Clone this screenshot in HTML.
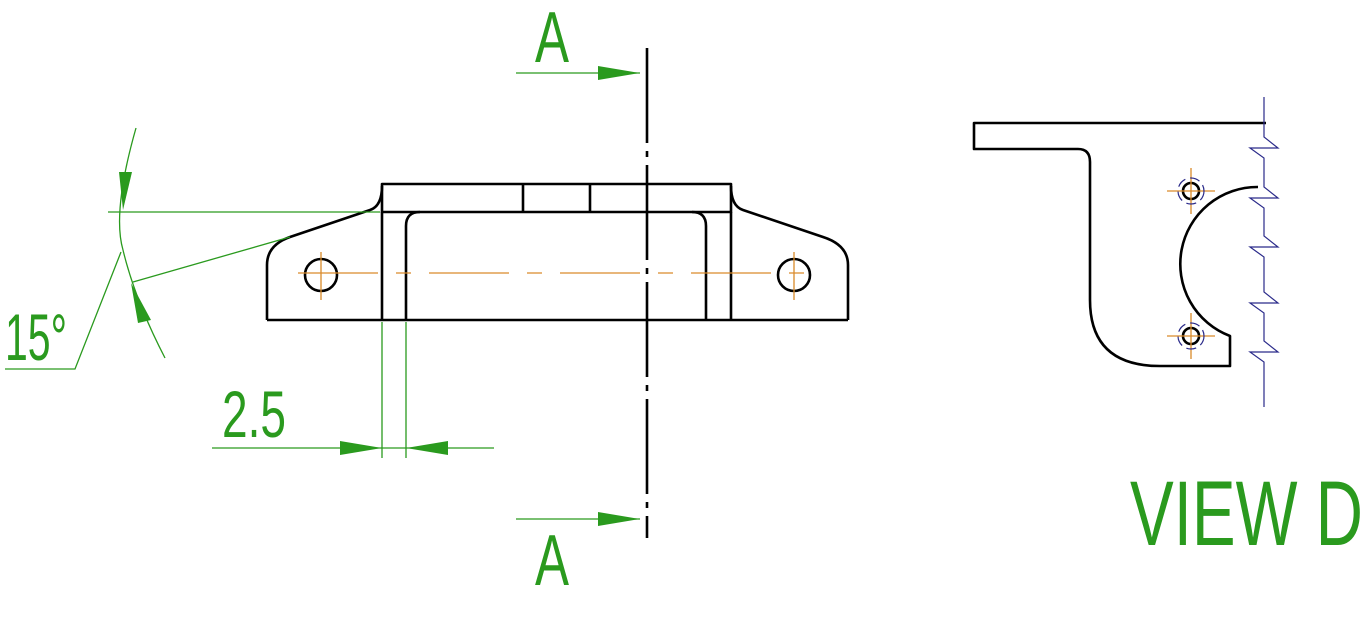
<!DOCTYPE html>
<html><head><meta charset="utf-8"><style>html,body{margin:0;padding:0;background:#fff}svg{display:block}</style></head>
<body>
<svg width="1372" height="632" viewBox="0 0 1372 632" xmlns="http://www.w3.org/2000/svg">
<g fill="none" stroke="#000" stroke-width="2.6" stroke-linejoin="round">
  <rect x="382" y="184" width="349" height="28"/>
  <line x1="523" y1="184" x2="523" y2="212"/>
  <line x1="590" y1="184" x2="590" y2="212"/>
  <line x1="382" y1="212" x2="382" y2="320"/>
  <line x1="731" y1="212" x2="731" y2="320"/>
  <path d="M406 320 V226 Q406 212 420 212"/>
  <path d="M706 320 V226 Q706 212 692 212"/>
  <line x1="267" y1="320" x2="848" y2="320"/>
  <path d="M382 186 Q382 206 370 210 L290 237 Q267 245 267 265 V320"/>
  <path d="M731 186 Q731 206 743 210 L823 237 Q848 245 848 265 V320"/>
  <circle cx="321" cy="275" r="16"/>
  <circle cx="794" cy="275" r="16"/>
  <line x1="647" y1="48" x2="647" y2="538" stroke-dasharray="95,8,6,8"/>
  <!-- view D -->
  <path d="M1090 123 H974 V149 H1078 Q1090 149 1090 162 V300 Q1090 366 1160 366 H1230 V336 A77 77 0 0 1 1258 187"/>
  <line x1="1090" y1="123" x2="1266" y2="123"/>
  <circle cx="1191" cy="191" r="8"/>
  <circle cx="1191" cy="336" r="8"/>
</g>
<g stroke="#d98a2a" stroke-width="1.3" fill="none">
  <line x1="298" y1="273" x2="817" y2="273" stroke-dasharray="80,18,15,18"/>
  <line x1="321" y1="252" x2="321" y2="300"/>
  <line x1="794" y1="252" x2="794" y2="300"/>
  <line x1="1167" y1="191" x2="1215" y2="191"/><line x1="1191" y1="168" x2="1191" y2="214"/>
  <line x1="1167" y1="336" x2="1215" y2="336"/><line x1="1191" y1="313" x2="1191" y2="359"/>
</g>
<g stroke="#2a2a8a" stroke-width="1.2" fill="none">
  <circle cx="1191" cy="191" r="13" stroke-dasharray="10,5"/>
  <circle cx="1191" cy="336" r="13" stroke-dasharray="10,5"/>
  <path d="M1264 97 V137 L1278 148 H1250 L1264 158 V187 L1278 198 H1250 L1264 208 V236 L1278 247 H1250 L1264 257 V292 L1278 303 H1250 L1264 313 V341 L1278 352 H1250 L1264 362 V407"/>
</g>
<g stroke="#2a9a1e" stroke-width="1.3" fill="none">
  <line x1="516" y1="73" x2="640" y2="73"/>
  <line x1="516" y1="519" x2="640" y2="519"/>
  <line x1="108" y1="212" x2="380" y2="212"/>
  <line x1="133" y1="282" x2="290" y2="237"/>
  <path d="M136 128 Q112 212 123 250 Q135 300 165 358"/>
  <path d="M121 252 L75 369 H5"/>
  <line x1="382" y1="322" x2="382" y2="458"/>
  <line x1="406" y1="322" x2="406" y2="458"/>
  <line x1="212" y1="448" x2="494" y2="448"/>
</g>
<g fill="#2a9a1e">
  <polygon points="598,66 640,73 598,80"/>
  <polygon points="598,512 640,519 598,526"/>
  <polygon points="119,172 132,172 123,210"/>
  <polygon points="131,283 151,320 138,323"/>
  <polygon points="340,441 382,448 340,455"/>
  <polygon points="448,441 406,448 448,455"/>
</g>
<g fill="#2a9a1e" font-family="Liberation Sans, sans-serif">
  <text x="535" y="62" font-size="72" textLength="34" lengthAdjust="spacingAndGlyphs">A</text>
  <text x="535" y="585" font-size="72" textLength="34" lengthAdjust="spacingAndGlyphs">A</text>
  <text x="5" y="360" font-size="66" textLength="62" lengthAdjust="spacingAndGlyphs">15°</text>
  <text x="222" y="437" font-size="66" textLength="64" lengthAdjust="spacingAndGlyphs">2.5</text>
  <text x="1130" y="545" font-size="92" textLength="233" lengthAdjust="spacingAndGlyphs">VIEW D</text>
</g>
</svg>
</body></html>
